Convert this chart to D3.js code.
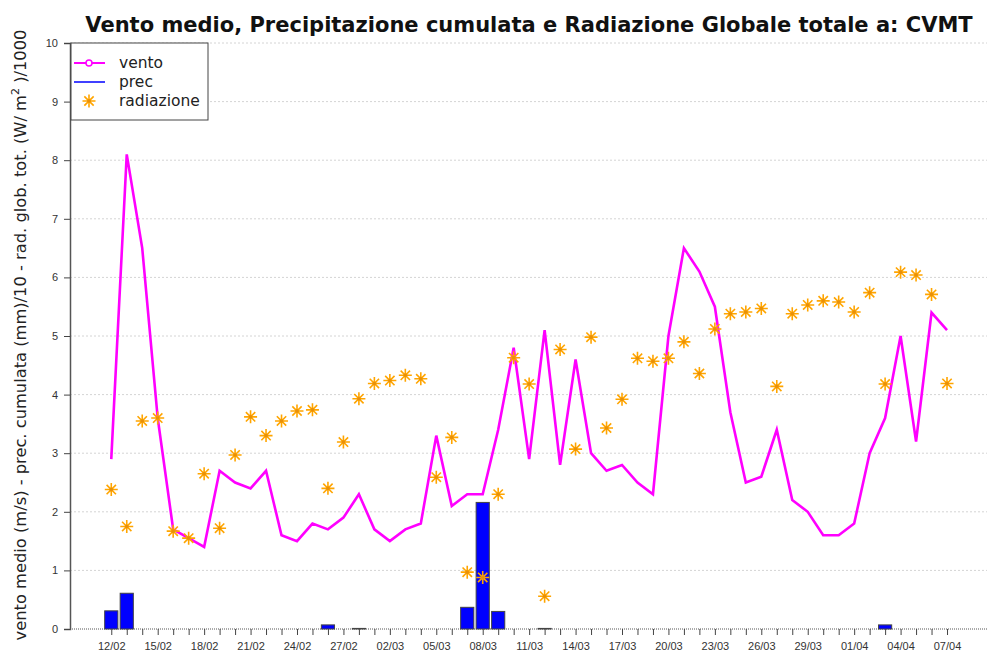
<!DOCTYPE html>
<html>
<head>
<meta charset="utf-8">
<script src="https://cdn.jsdelivr.net/npm/d3@7"></script>
<style>
  body { margin: 0; background: #fff; }
  svg { font-family: "DejaVu Sans", sans-serif; }
</style>
</head>
<body>
<svg id="chart" width="987" height="655"></svg>
<script>
// giorni dal 12/02 al 07/04
const startDay = new Date(2023, 1, 12);
const days = d3.timeDay.range(startDay, new Date(2023, 3, 8));

// vento medio (m/s)
const vento = [2.9, 8.1, 6.5, 3.6, 1.7, 1.55, 1.4, 2.7, 2.5, 2.4, 2.7, 1.6, 1.5, 1.8, 1.7, 1.9, 2.3,
  1.7, 1.5, 1.7, 1.8, 3.3, 2.1, 2.3, 2.3, 3.4, 4.8, 2.9, 5.1, 2.8, 4.6, 3.0, 2.7, 2.8, 2.5, 2.3,
  5.0, 6.5, 6.1, 5.5, 3.7, 2.5, 2.6, 3.4, 2.2, 2.0, 1.6, 1.6, 1.8, 3.0, 3.6, 5.0, 3.2, 5.4, 5.1];

// precipitazione cumulata (mm)/10
const prec = [0.31, 0.61, 0, 0, 0, 0, 0, 0, 0, 0, 0, 0, 0, 0, 0.07, 0, 0.01,
  0, 0, 0, 0, 0, 0, 0.37, 2.16, 0.3, 0, 0, 0.01, 0, 0, 0, 0, 0, 0, 0,
  0, 0, 0, 0, 0, 0, 0, 0, 0, 0, 0, 0, 0, 0, 0.07, 0, 0, 0, 0];

// radiazione globale totale (W/m2)/1000
const radiazione = [2.38, 1.75, 3.55, 3.6, 1.67, 1.55, 2.65, 1.72, 2.97, 3.62, 3.3, 3.55, 3.72, 3.74, 2.4, 3.19, 3.93,
  4.19, 4.24, 4.33, 4.27, 2.59, 3.27, 0.97, 0.88, 2.3, 4.63, 4.18, 0.56, 4.77, 3.07, 4.98, 3.43, 3.92, 4.62, 4.57,
  4.62, 4.9, 4.36, 5.12, 5.38, 5.41, 5.47, 4.14, 5.38, 5.53, 5.6, 5.58, 5.41, 5.74, 4.18, 6.09, 6.04, 5.71, 4.19];

const yTicks = d3.range(0, 11);

const svg = d3.select("#chart");
const mLeft = 70, mRight = 987, mTop = 43, mBottom = 629;

const x = d3.scaleTime()
  .domain([d3.timeHour.offset(days[0], -64), d3.timeHour.offset(days[days.length - 1], 62)])
  .range([mLeft, mRight]);
const y = d3.scaleLinear().domain([0, 10]).range([mBottom, mTop]);

const fmt = d3.timeFormat("%d/%m");

// griglia
svg.append("g").selectAll("line").data(yTicks).join("line")
  .attr("x1", mLeft).attr("x2", mRight)
  .attr("y1", d => y(d)).attr("y2", d => y(d))
  .attr("stroke", d => d === 0 ? "#555" : "#d4d4d4")
  .attr("stroke-dasharray", d => d === 0 ? "1,1" : "2,2")
  .attr("stroke-width", 1);

// asse y
const yAxis = svg.append("g").attr("transform", `translate(${mLeft},0)`)
  .call(d3.axisLeft(y).tickValues(yTicks).tickSize(6).tickPadding(6).tickFormat(d3.format("d")));
yAxis.select(".domain").attr("stroke", "#555").attr("stroke-width", 1.5);
yAxis.selectAll(".tick line").attr("stroke", "#444");
yAxis.selectAll("text").attr("fill", "#333").style("font-size", "11px");

// asse x
const xAxis = svg.append("g").attr("transform", `translate(0,${mBottom})`)
  .call(d3.axisBottom(x).tickValues(days).tickSize(6).tickPadding(7)
    .tickFormat((d, i) => i % 3 === 0 ? fmt(d) : ""));
xAxis.select(".domain").remove();
xAxis.selectAll(".tick line").attr("stroke", "#444");
xAxis.selectAll("text").attr("fill", "#333").style("font-size", "11px");

// barre prec
const dayW = x(days[1]) - x(days[0]);
const barW = dayW * 0.85;
svg.append("g").selectAll("rect")
  .data(days.map((d, i) => ({d, v: prec[i]})).filter(o => o.v > 0))
  .join("rect")
  .attr("x", o => x(o.d) - barW / 2)
  .attr("width", barW)
  .attr("y", o => y(o.v))
  .attr("height", o => y(0) - y(o.v))
  .attr("fill", "#0000ff")
  .attr("stroke", "#444")
  .attr("stroke-width", 1);

// linea vento
const line = d3.line().x((v, i) => x(days[i])).y(v => y(v));
svg.append("path").datum(vento)
  .attr("d", line)
  .attr("fill", "none")
  .attr("stroke", "#ff00ff")
  .attr("stroke-width", 2.6)
  .attr("stroke-linejoin", "miter");

// asterischi radiazione
const r = 6.5, rd = r * 0.72;
const starPath = `M0,${-r}V${r}M${-r},0H${r}M${-rd},${-rd}L${rd},${rd}M${-rd},${rd}L${rd},${-rd}`;
const stars = svg.append("g").selectAll("g")
  .data(radiazione)
  .join("g")
  .attr("transform", (v, i) => `translate(${x(days[i])},${y(v)})`);
stars.append("path").attr("d", starPath)
  .attr("stroke", "#ffa500").attr("stroke-width", 1.6).attr("fill", "none");
stars.append("circle").attr("r", 1.8).attr("fill", "#e8900a");

// legenda
const lg = svg.append("g");
lg.append("rect").attr("x", 71).attr("y", mTop).attr("width", 137).attr("height", 77)
  .attr("fill", "#fff").attr("stroke", "#444").attr("stroke-width", 1);
const items = [
  {label: "vento", type: "line", color: "#ff00ff"},
  {label: "prec", type: "line", color: "#4040ff"},
  {label: "radiazione", type: "star", color: "#ffa500"}
];
items.forEach((it, i) => {
  const yy = 63 + i * 19;
  if (it.type === "line") {
    lg.append("line").attr("x1", 74).attr("x2", 105).attr("y1", yy).attr("y2", yy)
      .attr("stroke", it.color).attr("stroke-width", 2);
    if (i === 0) lg.append("circle").attr("cx", 89).attr("cy", yy).attr("r", 3)
      .attr("fill", "#fff").attr("stroke", it.color).attr("stroke-width", 1.5);
  } else {
    lg.append("path").attr("d", starPath).attr("transform", `translate(89,${yy})`)
      .attr("stroke", it.color).attr("stroke-width", 1.6).attr("fill", "none");
    lg.append("circle").attr("cx", 89).attr("cy", yy).attr("r", 1.8).attr("fill", "#e8900a");
  }
  lg.append("text").attr("x", 119).attr("y", yy + 5).text(it.label)
    .attr("fill", "#222").style("font-size", "15.5px");
});

// titolo
svg.append("text").attr("x", 529).attr("y", 32).attr("text-anchor", "middle")
  .style("font-size", "21px").style("font-weight", "bold").attr("fill", "#111")
  .text("Vento medio, Precipitazione cumulata e Radiazione Globale totale a: CVMT");

// etichetta asse y
const yl = svg.append("text")
  .attr("transform", "translate(26,335) rotate(-90)")
  .attr("text-anchor", "middle").attr("fill", "#222").style("font-size", "16.3px");
yl.append("tspan").text("vento medio (m/s) - prec. cumulata (mm)/10 - rad. glob. tot. (W/ m");
yl.append("tspan").attr("dy", -7).style("font-size", "11px").text("2");
yl.append("tspan").attr("dy", 7).text(" )/1000");
</script>
</body>
</html>
